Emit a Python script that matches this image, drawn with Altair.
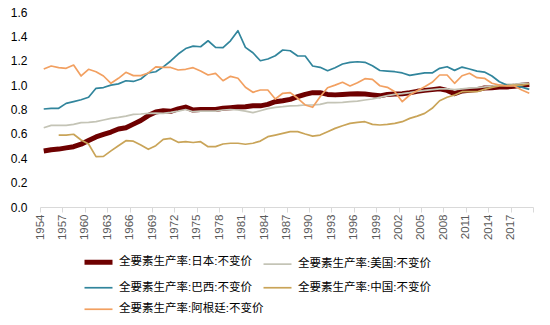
import altair as alt
import pandas as pd

years = list(range(1954, 2020))

series_names = [
    "全要素生产率:日本:不变价",
    "全要素生产率:美国:不变价",
    "全要素生产率:巴西:不变价",
    "全要素生产率:中国:不变价",
    "全要素生产率:阿根廷:不变价",
]

japan = [
    0.46, 0.47, 0.475, 0.485, 0.495, 0.515, 0.545, 0.575, 0.595, 0.615,
    0.64, 0.65, 0.68, 0.71, 0.75, 0.78, 0.79, 0.785, 0.805, 0.82,
    0.795, 0.80, 0.80, 0.80, 0.81, 0.815, 0.82, 0.823, 0.83, 0.83,
    0.842, 0.864, 0.872, 0.883, 0.905, 0.924, 0.938, 0.938, 0.924, 0.92,
    0.924, 0.927, 0.93, 0.927, 0.92, 0.912, 0.924, 0.927, 0.93, 0.938,
    0.949, 0.957, 0.963, 0.97, 0.957, 0.93, 0.952, 0.957, 0.963, 0.976,
    0.979, 0.985, 0.985, 0.99, 1.0, 1.006,
]
usa = [
    0.65, 0.67, 0.67, 0.67, 0.678, 0.692, 0.695, 0.70, 0.714, 0.727,
    0.735, 0.746, 0.76, 0.763, 0.768, 0.771, 0.768, 0.776, 0.787, 0.80,
    0.782, 0.787, 0.787, 0.787, 0.796, 0.80, 0.796, 0.787, 0.774, 0.79,
    0.807, 0.818, 0.823, 0.83, 0.832, 0.837, 0.837, 0.842, 0.856, 0.856,
    0.858, 0.864, 0.869, 0.878, 0.886, 0.90, 0.914, 0.924, 0.93, 0.938,
    0.949, 0.957, 0.963, 0.97, 0.97, 0.963, 0.97, 0.976, 0.979, 0.985,
    0.993, 1.0, 1.006, 1.006, 1.014, 1.014,
]
brazil = [
    0.804, 0.81, 0.81, 0.85, 0.865, 0.88, 0.90, 0.974, 0.98, 1.0,
    1.01, 1.036, 1.03, 1.05, 1.10, 1.11, 1.15, 1.198, 1.255, 1.30,
    1.32, 1.315, 1.364, 1.31, 1.307, 1.364, 1.446, 1.31, 1.266, 1.20,
    1.214, 1.241, 1.288, 1.282, 1.239, 1.239, 1.157, 1.146, 1.118, 1.143,
    1.173, 1.187, 1.192, 1.187, 1.159, 1.12, 1.115, 1.11, 1.10, 1.08,
    1.09, 1.10, 1.10, 1.138, 1.151, 1.121, 1.148, 1.132, 1.115, 1.107,
    1.075, 1.028, 1.0, 0.993, 0.984, 0.965,
]
china = [
    None, None, 0.59, 0.59, 0.597, 0.55, 0.517, 0.413, 0.415, 0.46,
    0.503, 0.544, 0.54, 0.509, 0.473, 0.503, 0.555, 0.563, 0.531, 0.536,
    0.529, 0.536, 0.495, 0.495, 0.517, 0.523, 0.523, 0.515, 0.523, 0.541,
    0.577, 0.59, 0.604, 0.618, 0.618, 0.599, 0.582, 0.59, 0.618, 0.645,
    0.667, 0.686, 0.694, 0.70, 0.678, 0.673, 0.678, 0.686, 0.70, 0.727,
    0.746, 0.768, 0.81, 0.872, 0.90, 0.919, 0.946, 0.946, 0.946, 0.965,
    0.982, 0.993, 0.996, 1.0, 1.0, 1.009,
]
argentina = [
    1.132, 1.157, 1.143, 1.138, 1.165, 1.075, 1.13, 1.11, 1.075, 1.015,
    1.056, 1.105, 1.078, 1.078, 1.10, 1.15, 1.145, 1.145, 1.124, 1.13,
    1.143, 1.116, 1.083, 1.097, 1.036, 1.072, 1.056, 0.982, 0.941, 0.96,
    0.96, 0.886, 0.933, 0.938, 0.892, 0.837, 0.818, 0.905, 0.979, 1.0,
    1.023, 0.993, 1.02, 1.053, 1.047, 0.995, 0.982, 0.946, 0.864, 0.919,
    0.954, 0.987, 1.023, 1.083, 1.083, 1.015, 1.077, 1.097, 1.061, 1.056,
    1.015, 1.0, 0.993, 0.993, 0.96, 0.933,
]

colors = ["#6E0000", "#C4C4B6", "#31859C", "#C9A458", "#F2A061"]
widths = [5, 1.7, 1.7, 1.7, 1.7]

rows = []
for name, vals in zip(series_names, [japan, usa, brazil, china, argentina]):
    for y, v in zip(years, vals):
        if v is not None:
            rows.append({"year": y, "value": v, "series": name})
df = pd.DataFrame(rows)

tick_vals = [y - 0.5 for y in range(1954, 2020, 3)] + [2019.5]

legend = alt.Legend(
    title=None, orient="none", legendX=62, legendY=243.5, columns=2,
    direction="horizontal",
    symbolType="M-6,0H1", symbolSize=64, labelFontSize=11.5,
    labelFont="Liberation Sans, Noto Sans CJK SC", labelColor="#000000",
    labelOffset=4, columnPadding=-4, rowPadding=8.5, padding=0,
    symbolStrokeWidth=2,
)

chart = alt.Chart(df).mark_line(strokeJoin="round").encode(
    x=alt.X("year:Q", scale=alt.Scale(domain=[1953.5, 2019.5], nice=False, zero=False),
            axis=alt.Axis(values=tick_vals, labelAngle=270, title=None, grid=False,
                          labelExpr="datum.value > 2018 ? '' : toString(datum.value + 0.5)",
                          domainColor="#D9D9D9", tickColor="#D9D9D9", tickSize=5,
                          labelColor="#595959", labelFontSize=11.5, labelPadding=2,
                          labelFont="Liberation Sans", labelBaseline="middle", labelAlign="right")),
    y=alt.Y("value:Q", scale=alt.Scale(domain=[0, 1.6], nice=False),
            axis=alt.Axis(values=[0, 0.2, 0.4, 0.6, 0.8, 1.0, 1.2, 1.4, 1.6], format=".1f",
                          title=None, grid=False, domain=False, ticks=False,
                          labelColor="#000000", labelFontSize=12, labelPadding=13,
                          labelFont="Liberation Sans")),
    color=alt.Color("series:N", sort=series_names,
                    scale=alt.Scale(domain=series_names, range=colors), legend=legend),
    strokeWidth=alt.StrokeWidth("series:N", sort=series_names,
                                scale=alt.Scale(type="ordinal", domain=series_names, range=widths),
                                legend=legend),
    order=alt.Order("year:Q"),
).properties(
    width=493, height=195,
    autosize=alt.AutoSizeParams(type="none"),
    padding={"left": 40, "top": 12, "right": 17, "bottom": 118},
).configure_view(stroke=None)

chart.save("out.html", embed_options={"renderer": "svg", "actions": False})
